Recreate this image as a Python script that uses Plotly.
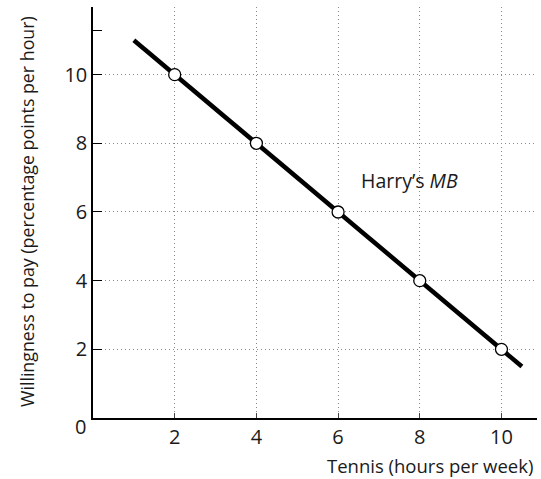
import plotly.graph_objects as go

# Data
line_x = [1, 10.5]
line_y = [11, 1.5]
point_x = [2, 4, 6, 8, 10]
point_y = [10, 8, 6, 4, 2]
x_ticks = [2, 4, 6, 8, 10]
y_ticks = [2, 4, 6, 8, 10]
y_extra_tick = [11.3]

FONT = "Open Sans"
W, H = 541, 479
ML, MR, MT, MB = 93, 4, 7, 61
PW, PH = W - ML - MR, H - MT - MB


def px_x(p):
    return (p - ML) / PW


def px_y(p):
    return (H - MB - p) / PH


fig = go.Figure()
fig.add_trace(go.Scatter(x=line_x, y=line_y, mode="lines",
                         line=dict(color="black", width=4.5), hoverinfo="skip"))
fig.add_trace(go.Scatter(x=point_x, y=point_y, mode="markers",
                         marker=dict(size=12, color="white",
                                     line=dict(color="black", width=1.3)),
                         cliponaxis=False))
fig.add_trace(go.Scatter(x=[0], y=[0], yaxis="y2", mode="markers",
                         marker=dict(opacity=0), hoverinfo="skip"))

grid = dict(showgrid=True, gridcolor="#8a8a8a", griddash="1px,3px", gridwidth=1)

fig.update_layout(
    width=W, height=H,
    margin=dict(l=ML, r=MR, t=MT, b=MB),
    plot_bgcolor="white", paper_bgcolor="white",
    showlegend=False,
    font=dict(family=FONT, size=16, color="#1a1a1a"),
    xaxis=dict(range=[0, 10.87], tickvals=x_ticks, ticks="inside", ticklen=5,
               tickcolor="#444", showline=True, linecolor="black", linewidth=1.5,
               zeroline=False, tickfont=dict(size=20, family=FONT), **grid),
    yaxis=dict(range=[0, 11.97], tickvals=y_ticks, ticks="inside", ticklen=9,
               tickcolor="black", showline=True, linecolor="black", linewidth=1.5,
               zeroline=False, tickfont=dict(size=20, family=FONT), **grid),
    yaxis2=dict(range=[0, 11.97], overlaying="y", side="left", tickvals=y_extra_tick,
                ticks="inside", ticklen=9, tickcolor="black", showticklabels=False,
                showgrid=False, zeroline=False, showline=False),
    annotations=[
        dict(text="Tennis (hours per week)", x=px_x(535), xref="paper",
             y=px_y(465), yref="paper",
             xanchor="right", yanchor="middle", showarrow=False,
             font=dict(size=18.5, family=FONT)),
        dict(text="Willingness to pay (percentage points per hour)",
             x=px_x(27), xref="paper", y=px_y(212), yref="paper",
             xanchor="center", yanchor="middle",
             showarrow=False, textangle=-90,
             font=dict(size=17.8, family=FONT)),
        dict(text="Harry’s <i>MB</i>", x=7.74, y=6.93, showarrow=False,
             xanchor="center", yanchor="middle",
             font=dict(size=19.5, family=FONT)),
        dict(text="0", x=px_x(80), xref="paper", y=px_y(426), yref="paper",
             xanchor="center", yanchor="middle",
             showarrow=False, font=dict(size=20, family=FONT)),
    ],
)
fig.write_html("out.html", config={"displayModeBar": False},
               post_script="document.body.style.margin='0';")
